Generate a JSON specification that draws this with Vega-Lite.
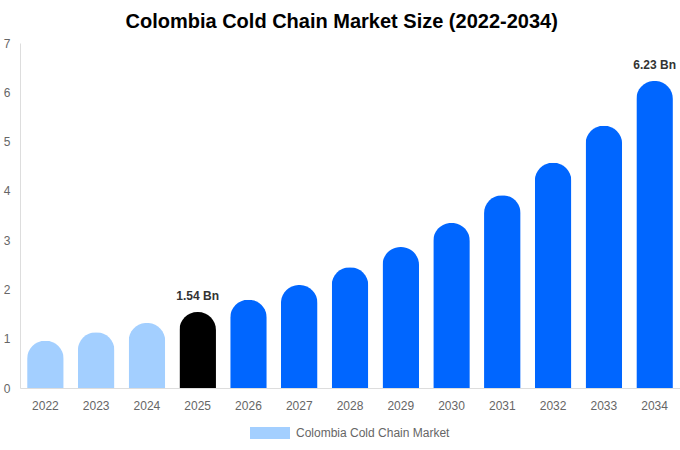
{
  "$schema": "https://vega.github.io/schema/vega-lite/v6.json",
  "width": 680,
  "height": 450,
  "autosize": {"type": "fit", "contains": "padding"},
  "padding": {"left": 3, "right": 0, "top": 12, "bottom": 11},
  "background": "white",
  "title": {
    "text": "Colombia Cold Chain Market Size (2022-2034)",
    "fontSize": 20,
    "fontWeight": "bold",
    "color": "#000000",
    "anchor": "middle",
    "frame": "bounds",
    "offset": 5
  },
  "data": {
    "values": [
      {"year": "2022", "value": 0.96, "phase": "history", "label": ""},
      {"year": "2023", "value": 1.13, "phase": "history", "label": ""},
      {"year": "2024", "value": 1.32, "phase": "history", "label": ""},
      {"year": "2025", "value": 1.54, "phase": "base", "label": "1.54 Bn"},
      {"year": "2026", "value": 1.79, "phase": "forecast", "label": ""},
      {"year": "2027", "value": 2.09, "phase": "forecast", "label": ""},
      {"year": "2028", "value": 2.45, "phase": "forecast", "label": ""},
      {"year": "2029", "value": 2.86, "phase": "forecast", "label": ""},
      {"year": "2030", "value": 3.35, "phase": "forecast", "label": ""},
      {"year": "2031", "value": 3.91, "phase": "forecast", "label": ""},
      {"year": "2032", "value": 4.57, "phase": "forecast", "label": ""},
      {"year": "2033", "value": 5.32, "phase": "forecast", "label": ""},
      {"year": "2034", "value": 6.23, "phase": "forecast", "label": "6.23 Bn"}
    ]
  },
  "encoding": {
    "x": {
      "field": "year",
      "type": "ordinal",
      "title": null,
      "scale": {"paddingInner": 0.28, "paddingOuter": 0.14},
      "axis": {
        "labelAngle": 0,
        "ticks": false,
        "domainColor": "#dddddd",
        "labelColor": "#666666",
        "labelFontSize": 12,
        "labelPadding": 12
      }
    },
    "y": {
      "field": "value",
      "type": "quantitative",
      "title": null,
      "scale": {"domain": [0, 7]},
      "axis": {
        "tickCount": 7,
        "grid": false,
        "ticks": false,
        "domain": true,
        "domainColor": "#dddddd",
        "labelColor": "#666666",
        "labelFontSize": 12,
        "labelPadding": 10
      }
    }
  },
  "layer": [
    {
      "mark": {"type": "bar", "cornerRadiusTopLeft": 18, "cornerRadiusTopRight": 18},
      "encoding": {
        "fill": {
          "field": "phase",
          "type": "nominal",
          "scale": {"domain": ["history", "base", "forecast"], "range": ["#a3cfff", "#000000", "#0066ff"]},
          "legend": null
        }
      }
    },
    {
      "mark": {"type": "bar", "opacity": 0},
      "encoding": {
        "color": {
          "datum": "Colombia Cold Chain Market",
          "type": "nominal",
          "scale": {"range": ["#a3cfff"]},
          "legend": {
            "title": null,
            "orient": "bottom",
            "direction": "horizontal",
            "symbolType": "M-1,-0.3L1,-0.3L1,0.3L-1,0.3Z",
            "symbolSize": 1600,
            "symbolOpacity": 1,
            "symbolStrokeWidth": 0,
            "symbolFillColor": "#a3cfff",
            "labelColor": "#666666",
            "labelFontSize": 12,
            "labelOffset": 6,
            "offset": 2
          }
        }
      }
    },
    {
      "transform": [{"filter": "datum.label != ''"}],
      "mark": {"type": "text", "dy": -9, "baseline": "bottom", "fontSize": 12, "fontWeight": "bold", "color": "#333333"},
      "encoding": {
        "text": {"field": "label"}
      }
    }
  ],
  "config": {
    "font": "Liberation Sans",
    "view": {"stroke": null},
    "legend": {"layout": {"bottom": {"anchor": "middle"}}}
  }
}
